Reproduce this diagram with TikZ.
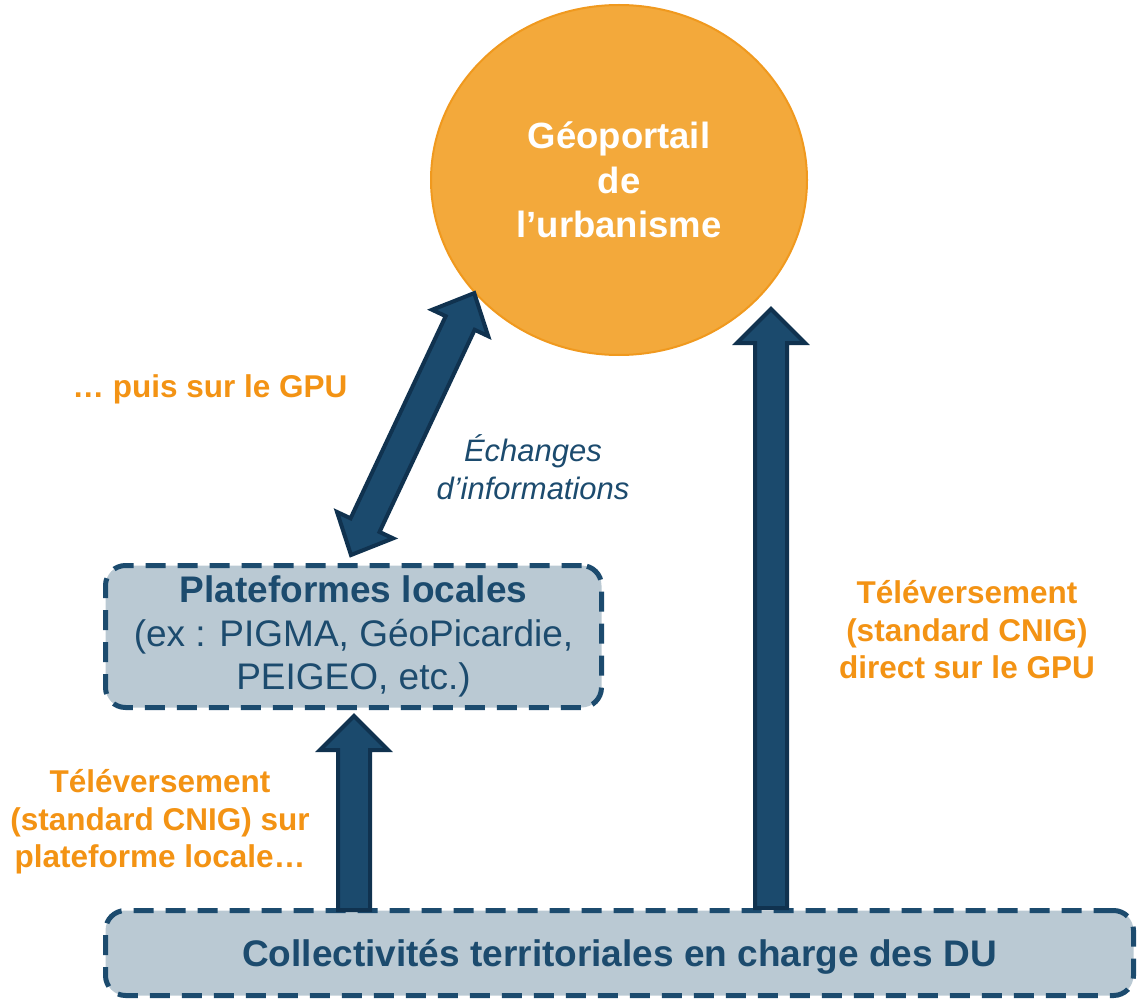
\documentclass[tikz,border=0pt]{standalone}
\usepackage{fontspec}
\setmainfont{Liberation Sans}
\usetikzlibrary{calc,shapes.geometric}
\definecolor{orangegpu}{HTML}{F3A93B}
\definecolor{bordgpu}{HTML}{F0991E}
\definecolor{orangetexte}{HTML}{F39314}
\definecolor{bleutexte}{HTML}{1C4B6E}
\definecolor{bleufleche}{HTML}{1B4A6D}
\definecolor{bordfleche}{HTML}{10324F}
\definecolor{grisbleu}{HTML}{BAC9D3}

\begin{document}
\begin{tikzpicture}[x=1pt,y=-1pt]

      \tikzset{cadre/.style={draw=bleutexte, line width=5pt, dash pattern=on 20pt off 12pt, fill=grisbleu, rounded corners=20pt, inner sep=0pt, text=bleutexte, align=center},
               etiquette/.style={text=orangetexte, font=\bfseries\fontsize{31.5}{37.5}\selectfont, align=center},
               fleche/.style={draw=bordfleche, fill=bleufleche, line width=4pt, line join=miter, to path={
                 ($(\tikztostart)!16pt!90:(\tikztotarget)$)
                 -- ($(\tikztotarget)!34pt!(\tikztostart)!16pt!90:(\tikztotarget)$)
                 -- ($(\tikztotarget)!34pt!(\tikztostart)!34pt!90:(\tikztotarget)$)
                 -- (\tikztotarget)
                 -- ($(\tikztotarget)!34pt!(\tikztostart)!34pt!-90:(\tikztotarget)$)
                 -- ($(\tikztotarget)!34pt!(\tikztostart)!16pt!-90:(\tikztotarget)$)
                 -- ($(\tikztostart)!16pt!-90:(\tikztotarget)$) -- cycle}},
               doublefleche/.style={draw=bordfleche, fill=bleufleche, line width=4pt, line join=miter, to path={
                 (\tikztostart)
                 -- ($(\tikztostart)!33pt!(\tikztotarget)!31pt!90:(\tikztotarget)$)
                 -- ($(\tikztostart)!33pt!(\tikztotarget)!16pt!90:(\tikztotarget)$)
                 -- ($(\tikztotarget)!33pt!(\tikztostart)!16pt!90:(\tikztotarget)$)
                 -- ($(\tikztotarget)!33pt!(\tikztostart)!31pt!90:(\tikztotarget)$)
                 -- (\tikztotarget)
                 -- ($(\tikztotarget)!33pt!(\tikztostart)!31pt!-90:(\tikztotarget)$)
                 -- ($(\tikztotarget)!33pt!(\tikztostart)!16pt!-90:(\tikztotarget)$)
                 -- ($(\tikztostart)!33pt!(\tikztotarget)!16pt!-90:(\tikztotarget)$)
                 -- ($(\tikztostart)!33pt!(\tikztotarget)!31pt!-90:(\tikztotarget)$)
                 -- cycle}}}

      \useasboundingbox (0,0) rectangle (1142,1000);
% Nodes
      	\node[ellipse, draw=bordgpu, line width=2pt, fill=orangegpu, minimum width=376, minimum height=350, inner sep=0pt, text=white, align=center, font=\bfseries\fontsize{36.5}{44.5}\selectfont] (gpu) at (619,180) {Géoportail\\de\\l’urbanisme};
      	\node[cadre, minimum width=496, minimum height=142, font=\fontsize{37}{43.5}\selectfont] (plateformes) at (353.5,636.5) {\textbf{Plateformes locales}\\(ex : PIGMA, GéoPicardie,\\PEIGEO, etc.)};
      	\node[cadre, minimum width=1028, minimum height=85, text depth=0pt, font=\bfseries\fontsize{37}{44}\selectfont] (collectivites) at (619.5,953) {Collectivités territoriales en charge des DU};
% Labels
      	\node[etiquette] (puis) at (210,389) {… puis sur le GPU};
      	\node[text=bleutexte, align=center, font=\itshape\fontsize{31}{38}\selectfont] (echanges) at (533,467) {Échanges\\d’informations};
      	\node[etiquette] (direct) at (967,630) {Téléversement\\(standard CNIG)\\direct sur le GPU};
      	\node[etiquette] (locale) at (160,822) {Téléversement\\(standard CNIG) sur\\plateforme locale…};
% Arrow ends
      	\coordinate (d1) at (354,910);
      	\coordinate (a1) at (354,716);
      	\coordinate (d2) at (771,908);
      	\coordinate (a2) at (771,309);
      	\coordinate (a3) at (351,555);
% Arrows
		\draw[fleche] (d1) to (a1);
		\draw[fleche] (d2) to (a2);
		\draw[doublefleche] (gpu.218) to (a3);

\end{tikzpicture}
\end{document}
